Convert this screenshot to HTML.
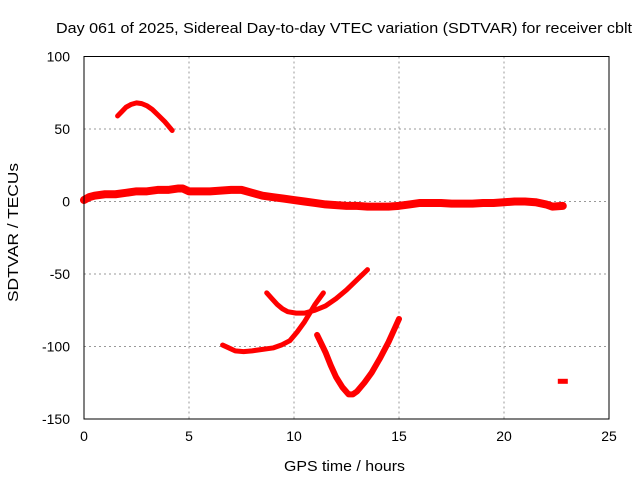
<!DOCTYPE html>
<html><head><meta charset="utf-8"><style>
body{margin:0;background:#fff;}
svg{display:block;font-family:"Liberation Sans",sans-serif;}
</style></head><body>
<svg id="c" width="640" height="480">
<text x="56" y="33" font-size="15" textLength="576" lengthAdjust="spacingAndGlyphs">Day 061 of 2025, Sidereal Day-to-day VTEC variation (SDTVAR) for receiver cblt</text>
<text x="284" y="471" font-size="15" textLength="121" lengthAdjust="spacingAndGlyphs">GPS time / hours</text>
<text x="18" y="302" font-size="15" textLength="139" lengthAdjust="spacingAndGlyphs" transform="rotate(-90 18 302)">SDTVAR / TECUs</text>
<g id="grid"></g><g id="series"></g>
<rect x="84" y="56.5" width="525" height="362.5" fill="none" stroke="#000" stroke-width="1"/>
</svg>
<script>
const xTicks=[0,5,10,15,20,25];
const yTicks=[100,50,0,-50,-100,-150];
const arcTopX=[1.6,1.8,2.0,2.25,2.5,2.75,3.0,3.25,3.5,3.85,4.2];
const arcTopY=[59,62,65,67,68,67.5,66,63.5,60,55,49];
const mainX=[0,0.25,0.5,1,1.5,2,2.5,3,3.5,4,4.5,4.7,5,5.5,6,6.5,7,7.5,8,8.5,9,9.5,10,10.5,11,11.5,12,12.5,13,13.5,14,14.5,15,15.5,16,16.5,17,17.5,18,18.5,19,19.5,20,20.5,21,21.5,22,22.3,22.8];
const mainY=[1,3,4,5,5,6,7,7,8,8,9,9,7,7,7,7.5,8,8,6,4,3,2,1,0,-1,-2,-2.5,-3,-3,-3.5,-3.5,-3.5,-3,-2,-1,-1,-1,-1.5,-1.5,-1.5,-1,-1,-0.5,0,0,-0.5,-2,-3.5,-3];
const arcAX=[8.7,8.95,9.2,9.45,9.7,10.1,10.5,11,11.5,12,12.5,13,13.5];
const arcAY=[-63,-67,-71,-74,-76,-77,-77,-75,-72,-67,-61,-54,-47];
const arcBX=[6.6,6.9,7.2,7.6,8,8.5,9,9.4,9.8,10.15,10.5,10.75,11.0,11.2,11.4];
const arcBY=[-99,-101,-103,-103.5,-103,-102,-101,-99,-96,-90,-83,-77,-71,-67,-63];
const arcCX=[11.1,11.3,11.5,11.75,12,12.3,12.6,12.8,13,13.35,13.7,14.1,14.5,14.75,15];
const arcCY=[-92,-98,-104,-113,-121,-128,-133,-133,-131,-125,-118,-108,-97,-89,-81];
const pointX=[22.8];
const pointY=[-124];
const NS='http://www.w3.org/2000/svg';
const sx=v=>84+v*21;
const sy=v=>56.5+(100-v)*1.45;
const g=document.getElementById('grid'),s=document.getElementById('series');
function mk(t,a,p){const e=document.createElementNS(NS,t);for(const k in a)e.setAttribute(k,a[k]);p.appendChild(e);return e;}
xTicks.forEach(v=>{
 if(v>0&&v<25){const l=mk('line',{x1:sx(v),x2:sx(v),y1:56.5,y2:419,stroke:'#999','stroke-dasharray':'2,3'},g);
 
 }
 const t=mk('text',{x:sx(v),y:441,'font-size':14,'text-anchor':'middle'},g);t.textContent=v;
 
 
});
yTicks.forEach(v=>{
 if(v<100&&v>-150){const l=mk('line',{x1:84,x2:609,y1:sy(v),y2:sy(v),stroke:'#999','stroke-dasharray':'2,3'},g);
 
 }
 const t=mk('text',{x:70,y:sy(v)+5,'font-size':14,'text-anchor':'end'},g);t.textContent=v;
 
 
});
function line(xs,ys,name,w){
 const d=xs.map((x,i)=>(i?'L':'M')+sx(x)+','+sy(ys[i])).join('');
 const p=mk('path',{d:d,fill:'none',stroke:'#f00','stroke-width':w,'stroke-linejoin':'round','stroke-linecap':'round'},s);
 
 
}
line(arcTopX,arcTopY,'series-arc-top',5);
line(mainX,mainY,'series-main',8);
line(arcAX,arcAY,'series-arc-a',5);
line(arcBX,arcBY,'series-arc-b',5);
line(arcCX,arcCY,'series-arc-c',6);
pointX.forEach((x,i)=>{
 const c=mk('rect',{x:sx(x)-5,y:sy(pointY[i])-2.5,width:10,height:5,fill:'#f00'},s);
 
 
});
</script>
</body></html>
